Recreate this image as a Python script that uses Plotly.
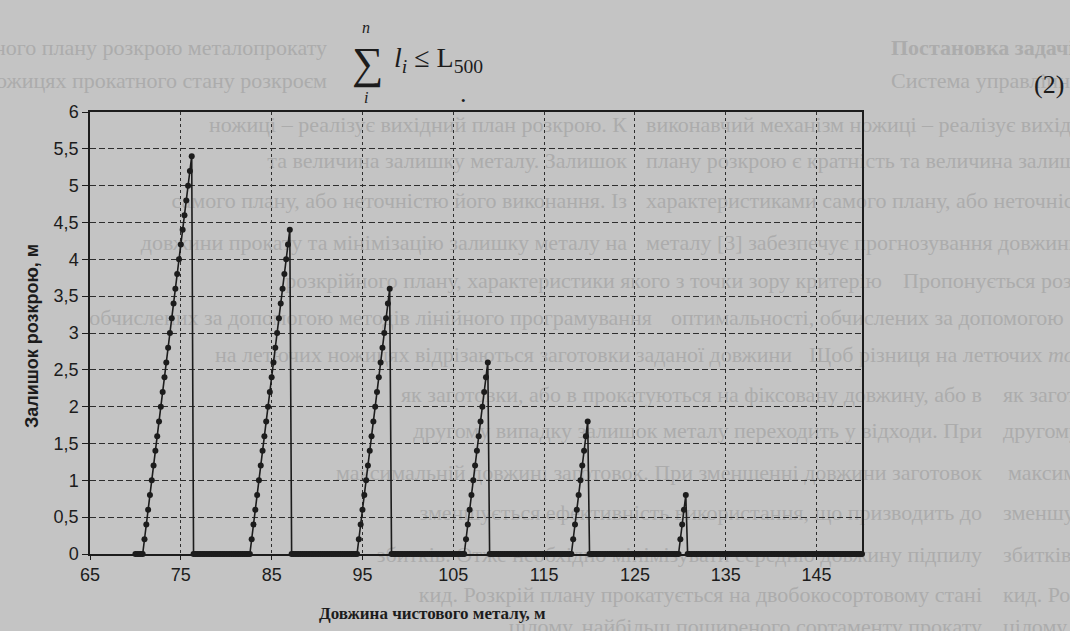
import plotly.graph_objects as go

# ---- data ----
lengths = [
    70.0, 70.2, 70.4, 70.6, 70.8, 71.0, 71.2, 71.4, 71.6, 71.8,
    72.0, 72.2, 72.4, 72.6, 72.8, 73.0, 73.2, 73.4, 73.6, 73.8,
    74.0, 74.2, 74.4, 74.6, 74.8, 75.0, 75.2, 75.4, 75.6, 75.8,
    76.0, 76.2, 76.4, 76.6, 76.8, 77.0, 77.2, 77.4, 77.6, 77.8,
    78.0, 78.2, 78.4, 78.6, 78.8, 79.0, 79.2, 79.4, 79.6, 79.8,
    80.0, 80.2, 80.4, 80.6, 80.8, 81.0, 81.2, 81.4, 81.6, 81.8,
    82.0, 82.2, 82.4, 82.6, 82.8, 83.0, 83.2, 83.4, 83.6, 83.8,
    84.0, 84.2, 84.4, 84.6, 84.8, 85.0, 85.2, 85.4, 85.6, 85.8,
    86.0, 86.2, 86.4, 86.6, 86.8, 87.0, 87.2, 87.4, 87.6, 87.8,
    88.0, 88.2, 88.4, 88.6, 88.8, 89.0, 89.2, 89.4, 89.6, 89.8,
    90.0, 90.2, 90.4, 90.6, 90.8, 91.0, 91.2, 91.4, 91.6, 91.8,
    92.0, 92.2, 92.4, 92.6, 92.8, 93.0, 93.2, 93.4, 93.6, 93.8,
    94.0, 94.2, 94.4, 94.6, 94.8, 95.0, 95.2, 95.4, 95.6, 95.8,
    96.0, 96.2, 96.4, 96.6, 96.8, 97.0, 97.2, 97.4, 97.6, 97.8,
    98.0, 98.2, 98.4, 98.6, 98.8, 99.0, 99.2, 99.4, 99.6, 99.8,
    100.0, 100.2, 100.4, 100.6, 100.8, 101.0, 101.2, 101.4, 101.6, 101.8,
    102.0, 102.2, 102.4, 102.6, 102.8, 103.0, 103.2, 103.4, 103.6, 103.8,
    104.0, 104.2, 104.4, 104.6, 104.8, 105.0, 105.2, 105.4, 105.6, 105.8,
    106.0, 106.2, 106.4, 106.6, 106.8, 107.0, 107.2, 107.4, 107.6, 107.8,
    108.0, 108.2, 108.4, 108.6, 108.8, 109.0, 109.2, 109.4, 109.6, 109.8,
    110.0, 110.2, 110.4, 110.6, 110.8, 111.0, 111.2, 111.4, 111.6, 111.8,
    112.0, 112.2, 112.4, 112.6, 112.8, 113.0, 113.2, 113.4, 113.6, 113.8,
    114.0, 114.2, 114.4, 114.6, 114.8, 115.0, 115.2, 115.4, 115.6, 115.8,
    116.0, 116.2, 116.4, 116.6, 116.8, 117.0, 117.2, 117.4, 117.6, 117.8,
    118.0, 118.2, 118.4, 118.6, 118.8, 119.0, 119.2, 119.4, 119.6, 119.8,
    120.0, 120.2, 120.4, 120.6, 120.8, 121.0, 121.2, 121.4, 121.6, 121.8,
    122.0, 122.2, 122.4, 122.6, 122.8, 123.0, 123.2, 123.4, 123.6, 123.8,
    124.0, 124.2, 124.4, 124.6, 124.8, 125.0, 125.2, 125.4, 125.6, 125.8,
    126.0, 126.2, 126.4, 126.6, 126.8, 127.0, 127.2, 127.4, 127.6, 127.8,
    128.0, 128.2, 128.4, 128.6, 128.8, 129.0, 129.2, 129.4, 129.6, 129.8,
    130.0, 130.2, 130.4, 130.6, 130.8, 131.0, 131.2, 131.4, 131.6, 131.8,
    132.0, 132.2, 132.4, 132.6, 132.8, 133.0, 133.2, 133.4, 133.6, 133.8,
    134.0, 134.2, 134.4, 134.6, 134.8, 135.0, 135.2, 135.4, 135.6, 135.8,
    136.0, 136.2, 136.4, 136.6, 136.8, 137.0, 137.2, 137.4, 137.6, 137.8,
    138.0, 138.2, 138.4, 138.6, 138.8, 139.0, 139.2, 139.4, 139.6, 139.8,
    140.0, 140.2, 140.4, 140.6, 140.8, 141.0, 141.2, 141.4, 141.6, 141.8,
    142.0, 142.2, 142.4, 142.6, 142.8, 143.0, 143.2, 143.4, 143.6, 143.8,
    144.0, 144.2, 144.4, 144.6, 144.8, 145.0, 145.2, 145.4, 145.6, 145.8,
    146.0, 146.2, 146.4, 146.6, 146.8, 147.0, 147.2, 147.4, 147.6, 147.8,
    148.0, 148.2, 148.4, 148.6, 148.8, 149.0, 149.2, 149.4, 149.6, 149.8,
    150.0,
]

remainders = [
    0, 0, 0, 0, 0, 0.2, 0.4, 0.6, 0.8, 1.0,
    1.2, 1.4, 1.6, 1.8, 2.0, 2.2, 2.4, 2.6, 2.8, 3.0,
    3.2, 3.4, 3.6, 3.8, 4.0, 4.2, 4.4, 4.6, 4.8, 5.0,
    5.2, 5.4, 0, 0, 0, 0, 0, 0, 0, 0,
    0, 0, 0, 0, 0, 0, 0, 0, 0, 0,
    0, 0, 0, 0, 0, 0, 0, 0, 0, 0,
    0, 0, 0, 0, 0.2, 0.4, 0.6, 0.8, 1.0, 1.2,
    1.4, 1.6, 1.8, 2.0, 2.2, 2.4, 2.6, 2.8, 3.0, 3.2,
    3.4, 3.6, 3.8, 4.0, 4.2, 4.4, 0, 0, 0, 0,
    0, 0, 0, 0, 0, 0, 0, 0, 0, 0,
    0, 0, 0, 0, 0, 0, 0, 0, 0, 0,
    0, 0, 0, 0, 0, 0, 0, 0, 0, 0,
    0, 0, 0, 0.2, 0.4, 0.6, 0.8, 1.0, 1.2, 1.4,
    1.6, 1.8, 2.0, 2.2, 2.4, 2.6, 2.8, 3.0, 3.2, 3.4,
    3.6, 0, 0, 0, 0, 0, 0, 0, 0, 0,
    0, 0, 0, 0, 0, 0, 0, 0, 0, 0,
    0, 0, 0, 0, 0, 0, 0, 0, 0, 0,
    0, 0, 0, 0, 0, 0, 0, 0, 0, 0,
    0, 0, 0.2, 0.4, 0.6, 0.8, 1.0, 1.2, 1.4, 1.6,
    1.8, 2.0, 2.2, 2.4, 2.6, 0, 0, 0, 0, 0,
    0, 0, 0, 0, 0, 0, 0, 0, 0, 0,
    0, 0, 0, 0, 0, 0, 0, 0, 0, 0,
    0, 0, 0, 0, 0, 0, 0, 0, 0, 0,
    0, 0, 0, 0, 0, 0, 0, 0, 0, 0,
    0, 0.2, 0.4, 0.6, 0.8, 1.0, 1.2, 1.4, 1.6, 1.8,
    0, 0, 0, 0, 0, 0, 0, 0, 0, 0,
    0, 0, 0, 0, 0, 0, 0, 0, 0, 0,
    0, 0, 0, 0, 0, 0, 0, 0, 0, 0,
    0, 0, 0, 0, 0, 0, 0, 0, 0, 0,
    0, 0, 0, 0, 0, 0, 0, 0, 0, 0,
    0.2, 0.4, 0.6, 0.8, 0, 0, 0, 0, 0, 0,
    0, 0, 0, 0, 0, 0, 0, 0, 0, 0,
    0, 0, 0, 0, 0, 0, 0, 0, 0, 0,
    0, 0, 0, 0, 0, 0, 0, 0, 0, 0,
    0, 0, 0, 0, 0, 0, 0, 0, 0, 0,
    0, 0, 0, 0, 0, 0, 0, 0, 0, 0,
    0, 0, 0, 0, 0, 0, 0, 0, 0, 0,
    0, 0, 0, 0, 0, 0, 0, 0, 0, 0,
    0, 0, 0, 0, 0, 0, 0, 0, 0, 0,
    0, 0, 0, 0, 0, 0, 0, 0, 0, 0,
    0,
]

x_tick_values = [65, 75, 85, 95, 105, 115, 125, 135, 145]
y_tick_values = [0, 0.5, 1, 1.5, 2, 2.5, 3, 3.5, 4, 4.5, 5, 5.5, 6]
y_tick_labels = ["0", "0,5", "1", "1,5", "2", "2,5", "3", "3,5", "4", "4,5", "5", "5,5", "6"]

x_title = "Довжина чистового металу, м"
y_title = "Залишок розкрою, м"

# faint text of the photographed page showing behind the chart
# (row y, left part, x where it ends, right part, x where it starts)
page_rows = [
    (45, "відповідно до заданого плану розкрою металопрокату", 330,
     "<b>Постановка задачі розкрою прокату.</b>", 888),
    (78, "на летючих ножицях прокатного стану розкроєм", 330,
     "Система управління роз", 888),
    (122, "ножиці – реалізує вихідний план розкрою. К", 630,
     "виконавчий механізм ножиці – реалізує вихідний", 643),
    (158, "та величина залишку металу. Залишок", 630,
     "плану розкрою є кратність та величина залишку", 643),
    (198, "самого плану, або неточністю його виконання. Із", 630,
     "характеристиками самого плану, або неточністю", 643),
    (240, "довжини прокату та мінімізацію залишку металу на", 630,
     "металу [3] забезпечує прогнозування довжини", 643),
    (278, "розкрійного плану, характеристики якого з точки зору критерію", 885,
     "Пропонується розв'язок", 900),
    (315, "обчислених за допомогою методів лінійного програмування", 655,
     "оптимальності, обчислених за допомогою", 668),
    (352, "на летючих ножицях відрізаються заготовки заданої довжини", 795,
     "Щоб різниця на летючих <i>modified</i>", 806),
    (392, "як заготовки, або в прокатуються на фіксовану довжину, або в", 985,
     "як заготовки <i>of</i>", 1000),
    (428, "другому випадку залишок металу переходить у відходи. При", 985,
     "другому <i>bud</i>", 1000),
    (470, "максимальній довжині заготовок. При зменшенні довжини заготовок", 985,
     "максимальній", 1005),
    (510, "зменшується ефективність використання, що призводить до", 985,
     "зменшується", 1000),
    (552, "збитків. Отже необхідно мінімізувати середню довжину підпилу", 985,
     "збитків. О", 1000),
    (592, "кид. Розкрій плану прокатується на двобокосортовому стані", 985,
     "кид. Розкрій", 1000),
    (624, "цілому, найбільш поширеного сортаменту прокату", 985,
     "цілому", 1000),
]

# ---- layout geometry ----
W_FIG, H_FIG = 1070, 631
L, R, T, B = 90, 208, 112, 77
PW, PH = W_FIG - L - R, H_FIG - T - B


def px_x(xp):
    return (xp - L) / PW


def px_y(yp):
    return (H_FIG - B - yp) / PH


def pos(xp, yp):
    return px_x(xp), px_y(yp)


INK = "#1c1c1c"
PAGE = "#c4c4c4"
FAINT = "#acacac"

fig = go.Figure()
fig.add_trace(go.Scatter(
    x=lengths, y=remainders, mode="lines+markers",
    line=dict(color=INK, width=1.6),
    marker=dict(symbol="circle", size=6, color=INK),
    cliponaxis=False, showlegend=False,
))

# page text as labels of invisible shapes placed below the data
shapes = []
page_font = dict(family="Liberation Serif", size=22, color=FAINT)
for yp, left_txt, left_end, right_txt, right_start in page_rows:
    shapes.append(dict(type="rect", xref="paper", yref="paper", layer="below",
                       x0=px_x(left_end - 20), x1=px_x(left_end), y0=px_y(yp + 12), y1=px_y(yp - 12),
                       line=dict(width=0), fillcolor="rgba(0,0,0,0)",
                       label=dict(text=left_txt, textposition="middle right", padding=0, font=page_font)))
    shapes.append(dict(type="rect", xref="paper", yref="paper", layer="below",
                       x0=px_x(right_start), x1=px_x(right_start + 20), y0=px_y(yp + 12), y1=px_y(yp - 12),
                       line=dict(width=0), fillcolor="rgba(0,0,0,0)",
                       label=dict(text=right_txt, textposition="middle left", padding=0, font=page_font)))

annotations = []
ax, ay = pos(32, 336)
annotations.append(dict(text="<b>" + y_title + "</b>", x=ax, y=ay, xref="paper", yref="paper",
                        textangle=-90, showarrow=False, xanchor="center", yanchor="middle",
                        font=dict(family="Liberation Sans", size=18, color=INK)))
ax, ay = pos(432, 613)
annotations.append(dict(text="<b>" + x_title + "</b>", x=ax, y=ay, xref="paper", yref="paper",
                        showarrow=False, xanchor="center", yanchor="middle",
                        font=dict(family="Liberation Serif", size=17, color=INK)))

# formula  sum_i^n l_i <= L_500   and equation number
formula = [
    ("<i>n</i>", 366, 27, 16),
    ("∑", 367, 64, 44),
    ("<i>i</i>", 366, 98, 16),
    ("<i>l</i><sub><i>i</i></sub> ≤ L<sub>500</sub>", 438, 60, 28),
    (".", 463, 94, 26),
    ("(2)", 1049, 84, 26),
]
for txt, xp, yp, sz in formula:
    ax, ay = pos(xp, yp)
    annotations.append(dict(text=txt, x=ax, y=ay, xref="paper", yref="paper",
                            showarrow=False, xanchor="center", yanchor="middle",
                            font=dict(family="Liberation Serif", size=sz, color=INK)))

fig.update_layout(
    width=W_FIG, height=H_FIG,
    margin=dict(l=L, r=R, t=T, b=B, autoexpand=False),
    paper_bgcolor=PAGE, plot_bgcolor="rgba(0,0,0,0)",
    shapes=shapes,
    annotations=annotations,
    xaxis=dict(
        range=[65, 150], tickmode="array", tickvals=x_tick_values,
        ticks="outside", ticklen=4, tickcolor=INK,
        showgrid=True, gridcolor="#2e2e2e", gridwidth=1, griddash="3px,3px",
        showline=True, linecolor=INK, linewidth=1.5, mirror=True, zeroline=False,
        tickfont=dict(family="Liberation Sans", size=18, color=INK),
    ),
    yaxis=dict(
        range=[0, 6], tickmode="array", tickvals=y_tick_values, ticktext=y_tick_labels,
        ticks="outside", ticklen=6, tickcolor=INK,
        showgrid=True, gridcolor="#2e2e2e", gridwidth=1, griddash="6px,3px",
        showline=True, linecolor=INK, linewidth=1.5, mirror=True, zeroline=False,
        tickfont=dict(family="Liberation Sans", size=18, color=INK),
    ),
)

fig.write_html(
    "out.html",
    config={"displayModeBar": False},
    post_script=(
        "document.body.style.margin='0';"
        "document.body.style.overflow='hidden';"
        "document.documentElement.style.overflow='hidden';"
        "document.body.style.background='" + PAGE + "';"
    ),
)
